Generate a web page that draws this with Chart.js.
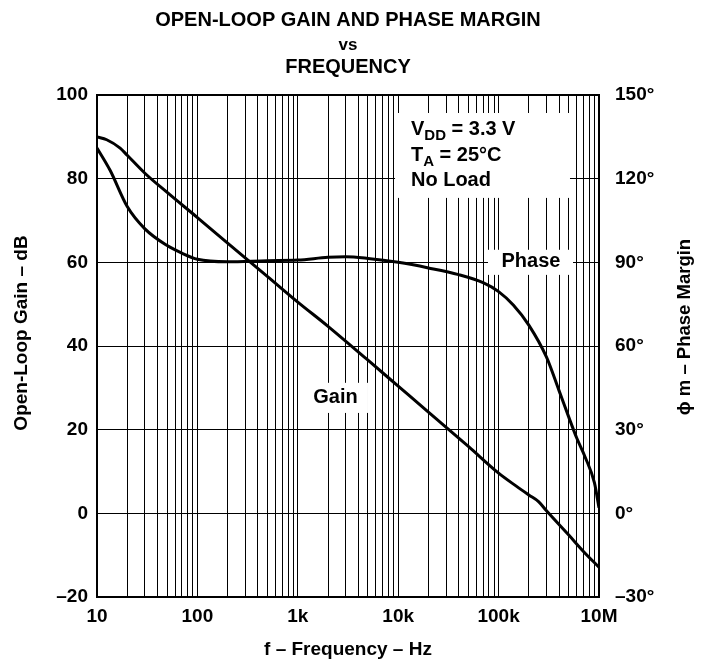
<!DOCTYPE html>
<html>
<head>
<meta charset="utf-8">
<script src="https://cdn.jsdelivr.net/npm/chart.js@4.4.1/dist/chart.umd.min.js"></script>
<style>
  body { margin: 0; background: #fff; }
</style>
</head>
<body>
<canvas id="chart" width="702" height="664"></canvas>
<script>
// values
const gainFreq = [10, 12.5, 17, 20, 30, 50, 100, 200, 500, 1e3, 2e3, 5e3, 1e4, 2e4, 5e4, 1e5, 1.5e5, 2e5, 2.5e5, 3e5, 5e5, 7e5, 1e6];
const gainDb = [90, 89.3, 87.3, 85.6, 81.3, 76.7, 70.7, 64.6, 56.6, 50.5, 44.7, 36.6, 30.4, 24.2, 16.0, 9.6, 6.5, 4.4, 2.8, 0.6, -5.2, -9.1, -12.9];

const phaseFreq = [10, 13.5, 20, 30, 50, 70, 100, 200, 500, 1e3, 2e3, 3e3, 5e3, 1e4, 2e4, 4e4, 7e4, 1e5, 1.4e5, 2e5, 3e5, 4e5, 5e5, 6e5, 7.25e5, 9e5, 1e6];
const phaseDeg = [131, 123, 110, 102, 96, 93.3, 91.1, 90.2, 90.6, 90.8, 91.8, 92, 91.4, 90, 88, 85.6, 82.7, 79.5, 74.7, 67.5, 56, 44, 34.5, 27, 20.3, 11, 2];

// axis ticks
const xLabelValues = [10, 100, 1e3, 1e4, 1e5, 1e6];
const xLabels = ["10", "100", "1k", "10k", "100k", "10M"];
const gainTicks = [-20, 0, 20, 40, 60, 80, 100];
const phaseTicks = [-30, 0, 30, 60, 90, 120, 150];

const xGridValues = [];
for (let d = 1; d < 6; d++) {
    for (let m = 1; m < 10; m++) {
        xGridValues.push(m * Math.pow(10, d));
    }
}
xGridValues.push(1e6);

const FONT = '"Liberation Sans", Arial, sans-serif';
const tickFont = { family: FONT, size: 19, weight: "bold" };

function minus(v) {
    return v < 0 ? "\u2013" + (-v) : String(v);
}

function drawParts(ctx, x, y, parts) {
    for (const [t, sub] of parts) {
        ctx.font = sub ? "bold 15px " + FONT : "bold 20px " + FONT;
        ctx.fillText(t, x, sub ? y + 5 : y);
        x += ctx.measureText(t).width;
    }
}

const notes = {
    id: "notes",
    beforeDatasetsDraw(chart) {
        const ctx = chart.ctx;
        const x = chart.scales.x;
        const y = chart.scales.y;
        const box = (f0, f1, g0, g1) => {
            const x0 = x.getPixelForValue(f0), x1 = x.getPixelForValue(f1);
            const y0 = y.getPixelForValue(g0), y1 = y.getPixelForValue(g1);
            ctx.fillRect(x0, y0, x1 - x0, y1 - y0);
        };
        ctx.save();
        ctx.fillStyle = "#fff";
        box(9.3e3, 5.14e5, 95.7, 75.4);   // conditions
        box(7.84e4, 5.51e5, 63, 57);      // "Phase"
        box(1.24e3, 5e3, 31.2, 24);       // "Gain"

        ctx.fillStyle = "#000";
        ctx.textBaseline = "alphabetic";
        ctx.textAlign = "left";
        const tx = x.getPixelForValue(1.34e4);
        drawParts(ctx, tx, y.getPixelForValue(90.45), [["V"], ["DD", true], [" = 3.3 V"]]);
        drawParts(ctx, tx, y.getPixelForValue(84.2), [["T"], ["A", true], [" = 25\u00b0C"]]);
        drawParts(ctx, tx, y.getPixelForValue(78.25), [["No Load"]]);

        ctx.textAlign = "center";
        ctx.font = "bold 20px " + FONT;
        ctx.fillText("Phase", x.getPixelForValue(2.1e5), y.getPixelForValue(59));
        ctx.fillText("Gain", x.getPixelForValue(2.37e3), y.getPixelForValue(26.4));
        ctx.restore();
    },
    afterDraw(chart) {
        const ctx = chart.ctx;
        const a = chart.chartArea;
        const cx = (a.left + a.right) / 2;
        ctx.save();
        ctx.strokeStyle = "#000";
        ctx.lineWidth = 2;
        ctx.strokeRect(a.left, a.top, a.right - a.left, a.bottom - a.top);

        ctx.fillStyle = "#000";
        ctx.textAlign = "center";
        ctx.textBaseline = "alphabetic";
        ctx.font = "bold 20px " + FONT;
        ctx.fillText("OPEN-LOOP GAIN AND PHASE MARGIN", cx, 26);
        ctx.font = "bold 17px " + FONT;
        ctx.fillText("vs", cx, 50);
        ctx.font = "bold 20px " + FONT;
        ctx.fillText("FREQUENCY", cx, 73);

        ctx.textBaseline = "middle";
        ctx.font = "bold 19px " + FONT;
        ctx.translate(22, 333);
        ctx.rotate(-Math.PI / 2);
        ctx.fillText("Open-Loop Gain \u2013 dB", 0, 0);
        ctx.restore();

        ctx.save();
        ctx.fillStyle = "#000";
        ctx.textAlign = "center";
        ctx.textBaseline = "middle";
        ctx.font = "bold 18.5px " + FONT;
        ctx.translate(685, 327);
        ctx.rotate(-Math.PI / 2);
        ctx.fillText("\u03d5 m \u2013 Phase Margin", 0, 0);
        ctx.restore();
    }
};

new Chart(document.getElementById("chart"), {
    type: "line",
    data: {
        datasets: [{
            label: "Gain",
            data: gainFreq.map((f, i) => ({ x: f, y: gainDb[i] })),
            yAxisID: "y",
            borderColor: "#000",
            borderWidth: 3,
            pointRadius: 0,
            cubicInterpolationMode: "monotone"
        }, {
            label: "Phase",
            data: phaseFreq.map((f, i) => ({ x: f, y: phaseDeg[i] })),
            yAxisID: "y2",
            borderColor: "#000",
            borderWidth: 3,
            pointRadius: 0,
            cubicInterpolationMode: "monotone"
        }]
    },
    options: {
        responsive: false,
        animation: false,
        devicePixelRatio: 1,
        layout: { padding: { top: 95 } },
        plugins: {
            legend: { display: false },
            tooltip: { enabled: false }
        },
        scales: {
            x: {
                type: "logarithmic",
                min: 10,
                max: 1e6,
                afterBuildTicks: s => { s.ticks = xGridValues.map(v => ({ value: v })); },
                afterFit: s => { s.height = 67; },
                grid: { color: "#000", lineWidth: 1, drawTicks: false },
                border: { display: false },
                ticks: {
                    autoSkip: false,
                    maxRotation: 0,
                    padding: 8,
                    color: "#000",
                    font: tickFont,
                    callback: v => {
                        const i = xLabelValues.indexOf(v);
                        return i < 0 ? "" : xLabels[i];
                    }
                },
                title: {
                    display: true,
                    text: "f \u2013 Frequency \u2013 Hz",
                    color: "#000",
                    font: { family: FONT, size: 19, weight: "bold" },
                    padding: { top: 0, bottom: 3 }
                }
            },
            y: {
                position: "left",
                min: -20,
                max: 100,
                afterBuildTicks: s => { s.ticks = gainTicks.map(v => ({ value: v })); },
                afterFit: s => { s.width = 97; },
                grid: { color: "#000", lineWidth: 1, drawTicks: false },
                border: { display: false },
                ticks: { padding: 9, color: "#000", font: tickFont, callback: v => minus(v) }
            },
            y2: {
                position: "right",
                min: -30,
                max: 150,
                afterBuildTicks: s => { s.ticks = phaseTicks.map(v => ({ value: v })); },
                afterFit: s => { s.width = 103; },
                grid: { display: false, drawTicks: false },
                border: { display: false },
                ticks: { padding: 16, color: "#000", font: tickFont, callback: v => minus(v) + "\u00b0" }
            }
        }
    },
    plugins: [notes]
});
</script>
</body>
</html>
